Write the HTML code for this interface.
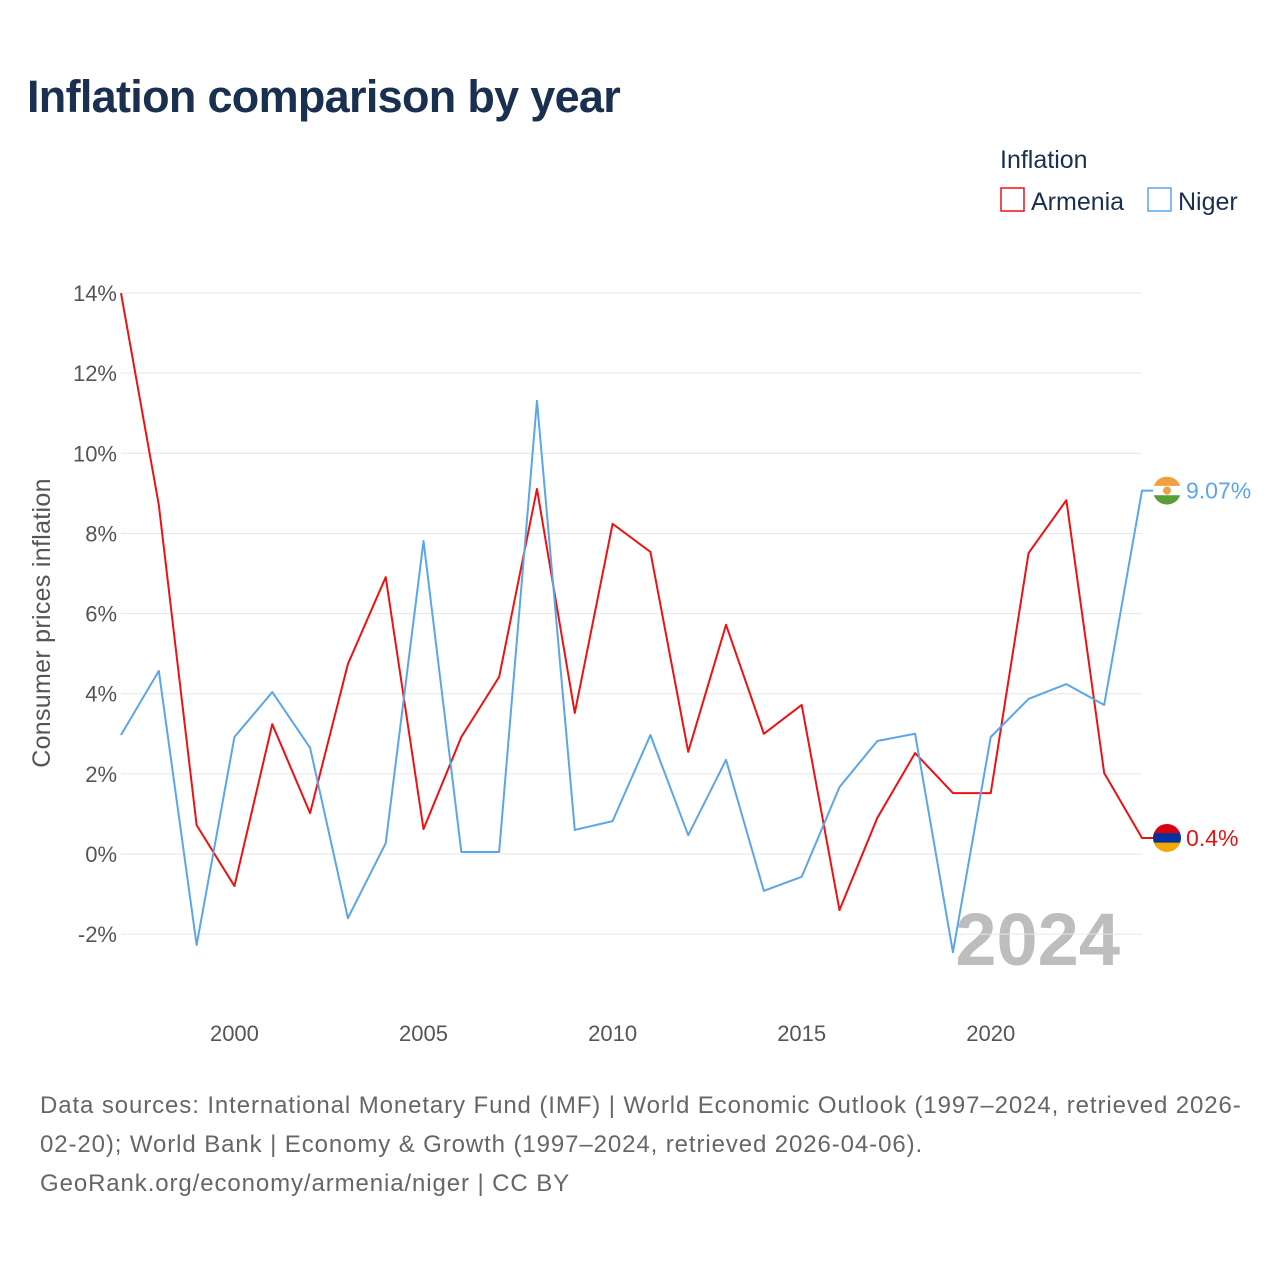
<!DOCTYPE html>
<html><head><meta charset="utf-8"><style>
html,body{margin:0;padding:0;background:#fff;}
svg{display:block;font-family:"Liberation Sans",sans-serif;}
</style></head><body>
<svg id="chart" width="1280" height="1280" viewBox="0 0 1280 1280">
<text x="27" y="112" font-size="45" font-weight="bold" fill="#1a3050" letter-spacing="-0.7">Inflation comparison by year</text>
<g>
<text x="1000" y="168" font-size="25" fill="#1a3050">Inflation</text>
<g><rect x="1001" y="188" width="23" height="23" fill="none" stroke="#ee1111" stroke-width="1.5"/><text x="1031" y="210" font-size="25" fill="#1a3050">Armenia</text></g>
<g><rect x="1148" y="188" width="23" height="23" fill="none" stroke="#5aa6ea" stroke-width="1.5"/><text x="1178" y="210" font-size="25" fill="#1a3050">Niger</text></g>
</g>
<text transform="translate(50,623) rotate(-90)" text-anchor="middle" font-size="25" letter-spacing="0.3" fill="#555">Consumer prices inflation</text>
<text x="1120" y="965" text-anchor="end" font-size="74" font-weight="bold" fill="#bdbdbd">2024</text>
<g id="grid"></g><g id="series"></g>
<g font-size="24" fill="#666" letter-spacing="0.9">
<text x="40" y="1113">Data sources: International Monetary Fund (IMF) | World Economic Outlook (1997–2024, retrieved 2026-</text>
<text x="40" y="1152">02-20); World Bank | Economy &amp; Growth (1997–2024, retrieved 2026-04-06).</text>
<text x="40" y="1191">GeoRank.org/economy/armenia/niger | CC BY</text>
</g>
</svg>
<script>
const years=[1997,1998,1999,2000,2001,2002,2003,2004,2005,2006,2007,2008,2009,2010,2011,2012,2013,2014,2015,2016,2017,2018,2019,2020,2021,2022,2023,2024];
const armenia=[14.0,8.71,0.72,-0.8,3.24,1.02,4.74,6.91,0.62,2.92,4.42,9.11,3.52,8.24,7.54,2.55,5.72,3.0,3.72,-1.4,0.9,2.52,1.52,1.52,7.51,8.83,2.02,0.4];
const niger=[2.97,4.57,-2.27,2.92,4.04,2.65,-1.6,0.27,7.81,0.05,0.05,11.31,0.6,0.82,2.97,0.47,2.35,-0.92,-0.57,1.67,2.82,3.0,-2.45,2.92,3.87,4.24,3.72,9.07];
const yTicks=[-2,0,2,4,6,8,10,12,14];
const xTicks=[2000,2005,2010,2015,2020];
const NS="http://www.w3.org/2000/svg";
const X=y=>121+(y-1997)*(1142-121)/27;
const Y=v=>854-v*40.07;
function mk(tag,attrs,parent){const e=document.createElementNS(NS,tag);for(const k in attrs)e.setAttribute(k,attrs[k]);parent.appendChild(e);return e;}
const grid=document.getElementById('grid'),ser=document.getElementById('series');
yTicks.forEach(t=>{
 const l=mk('line',{x1:121,x2:1142,y1:Y(t),y2:Y(t),stroke:'#e6e6e6','stroke-width':1},grid);
 
 
 const tx=mk('text',{x:117,y:Y(t)+8,'text-anchor':'end','font-size':22,fill:'#555'},grid);
 tx.textContent=t+'%';
 
 
});
xTicks.forEach(t=>{
 const tx=mk('text',{x:X(t),y:1041,'text-anchor':'middle','font-size':22,fill:'#555'},grid);
 tx.textContent=t;
 
 
});
function draw(vals,color,name){
 const pts=vals.map((v,i)=>X(years[i])+','+Y(v));
 const last=vals[vals.length-1];
 pts.push((X(years[years.length-1])+13)+','+Y(last));
 const p=mk('polyline',{points:pts.join(' '),fill:'none',stroke:color,'stroke-width':2,'stroke-linejoin':'round'},ser);
 
 
 return last;
}
const la=draw(armenia,'#ee1111','armenia');
const ln=draw(niger,'#5aa6ea','niger');
function flag(cy,name,colors){
 const g=mk('g',{},ser);
 
 
 const cp=mk('clipPath',{id:'c'+name},g);mk('circle',{cx:1167,cy:cy,r:14},cp);
 colors.forEach((c,i)=>mk('rect',{x:1153,y:cy-14+i*28/3,width:28,height:28/3+0.5,fill:c,'clip-path':'url(#c'+name+')'},g));
 return g;
}
const fa=flag(Y(la),'armenia',['#d90012','#0033a0','#f2a800']);
const fn=flag(Y(ln),'niger',['#f0a040','#ffffff','#5a9e3a']);
mk('circle',{cx:1167,cy:Y(ln),r:4,fill:'#f0a040'},fn);
const ta=mk('text',{x:1186,y:Y(la)+8,'font-size':23,fill:'#ee1111'},ser);
ta.textContent=la+'%';


const tn=mk('text',{x:1186,y:Y(ln)+8,'font-size':23,fill:'#5aa6ea'},ser);
tn.textContent=ln.toFixed(2)+'%';


</script>
</body></html>
